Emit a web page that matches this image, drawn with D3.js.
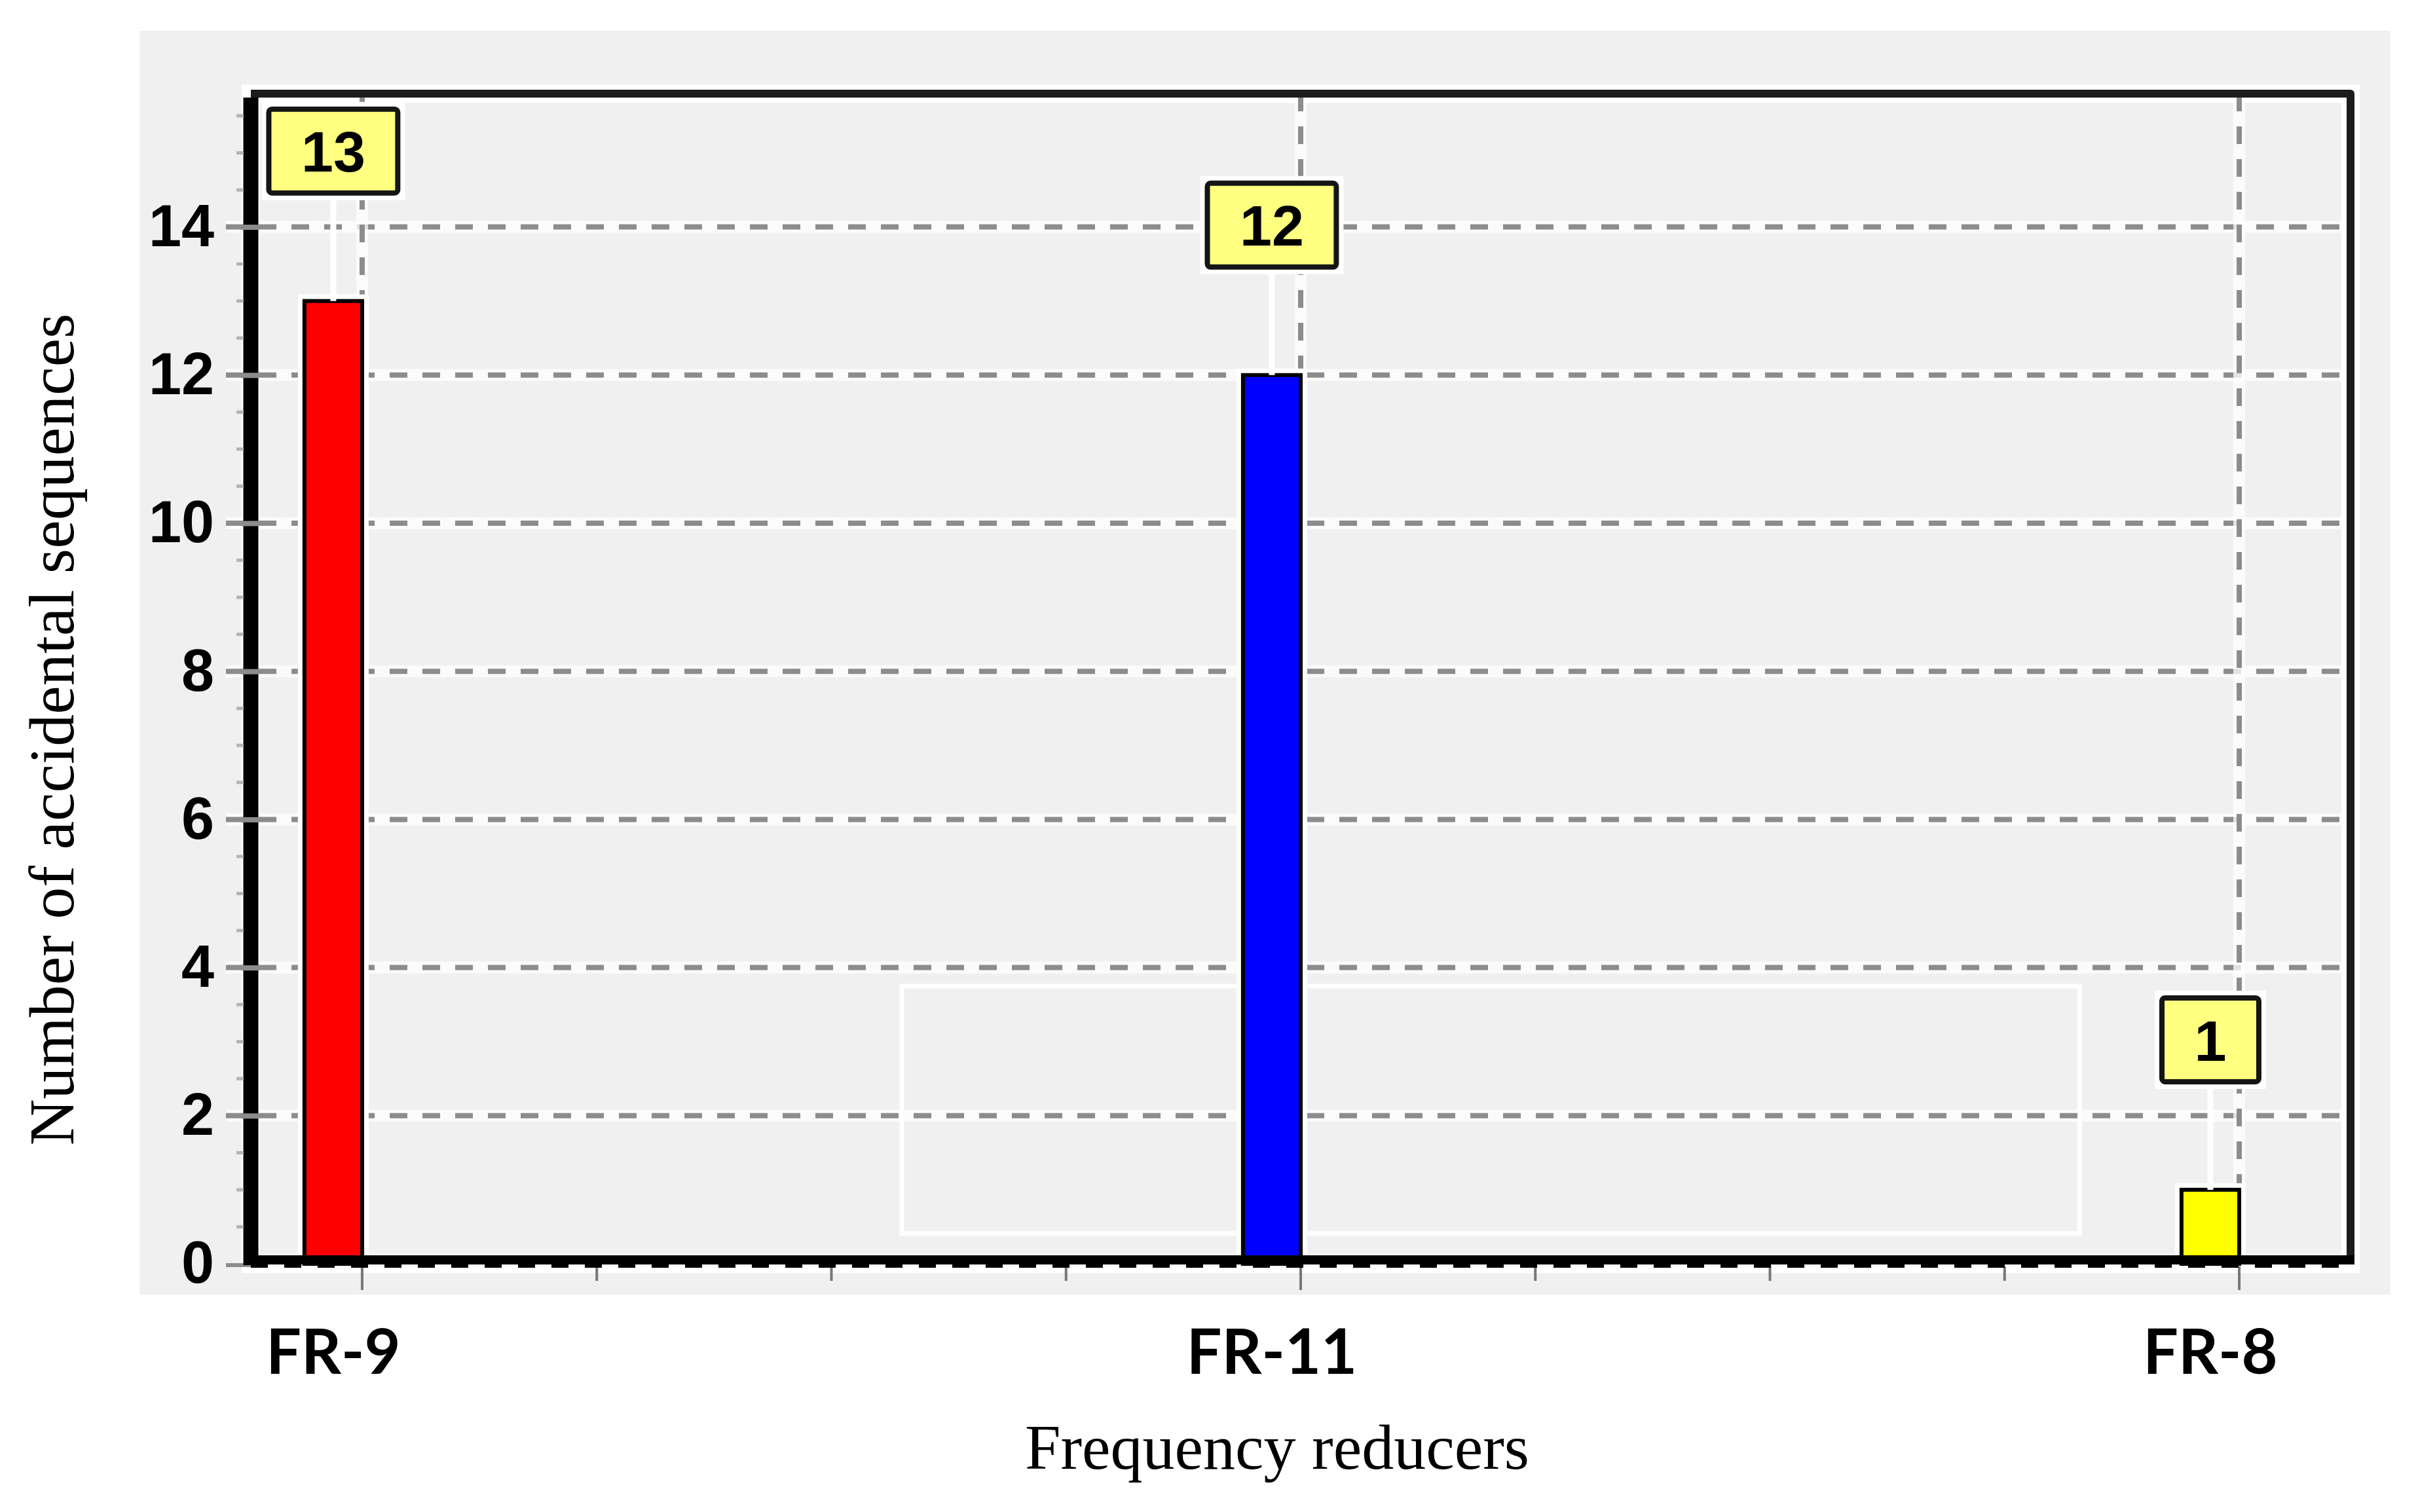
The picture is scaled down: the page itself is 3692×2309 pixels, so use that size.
<!DOCTYPE html>
<html>
<head>
<meta charset="utf-8">
<script src="https://cdn.jsdelivr.net/npm/d3@7"></script>
<style>
  body { margin: 0; background: #ffffff; }
  svg { display: block; }
</style>
</head>
<body>
<div id="chart"></div>
<script>
// chart values
const categories = ["FR-9", "FR-11", "FR-8"];
const counts = [13, 12, 1];
const barColors = ["#ff0000", "#0000ff", "#ffff00"];
const yTicks = [0, 2, 4, 6, 8, 10, 12, 14];
const xTitle = "Frequency reducers";
const yTitle = "Number of accidental sequences";

const W = 3692, H = 2309;
const frame = { left: 383, right: 3589, top: 143, bottom: 1930 };

const svg = d3.select("#chart")
    .append("svg")
    .attr("width", W)
    .attr("height", H);

const x = d3.scaleLinear().domain([-0.1186, 2.1186]).range([frame.left, frame.right]);
const y = d3.scaleLinear().domain([0, 15.8]).range([frame.bottom, frame.top]);
const barW = x(0) - x(-0.0615);

// grey panel behind the plot
svg.append("rect")
    .attr("x", 213).attr("y", 47)
    .attr("width", 3650 - 213).attr("height", 1977 - 47)
    .attr("fill", "#f0f0f0");

// white glow around the frame
svg.append("rect")
    .attr("x", frame.left).attr("y", frame.top)
    .attr("width", frame.right - frame.left).attr("height", frame.bottom - frame.top)
    .attr("fill", "none")
    .attr("stroke", "#ffffff")
    .attr("stroke-width", 28);

// empty legend box left over in the plot
svg.append("rect")
    .attr("x", x(0.575)).attr("y", y(3.75))
    .attr("width", x(1.830) - x(0.575)).attr("height", y(0.41) - y(3.75))
    .attr("fill", "none")
    .attr("stroke", "#ffffff")
    .attr("stroke-width", 7);

// horizontal grid
const hGrid = svg.append("g");
yTicks.filter(d => d > 0).forEach(d => {
    hGrid.append("line")
        .attr("x1", 345).attr("x2", frame.right)
        .attr("y1", y(d)).attr("y2", y(d))
        .attr("stroke", "#ffffff").attr("stroke-opacity", 0.75)
        .attr("stroke-width", 18);
    hGrid.append("line")
        .attr("x1", 345).attr("x2", frame.right)
        .attr("y1", y(d)).attr("y2", y(d))
        .attr("stroke", "#8c8c8c")
        .attr("stroke-width", 8)
        .attr("stroke-dasharray", "27,23");
});

// vertical grid at the categories
categories.forEach((c, i) => {
    hGrid.append("line")
        .attr("x1", x(i)).attr("x2", x(i))
        .attr("y1", frame.top).attr("y2", frame.bottom)
        .attr("stroke", "#ffffff").attr("stroke-opacity", 0.75)
        .attr("stroke-width", 18);
    hGrid.append("line")
        .attr("x1", x(i)).attr("x2", x(i))
        .attr("y1", frame.top).attr("y2", frame.bottom)
        .attr("stroke", "#8c8c8c")
        .attr("stroke-width", 8)
        .attr("stroke-dasharray", "27,23");
});

// bars
const bars = svg.append("g");
bars.selectAll("rect.halo")
    .data(counts)
    .join("rect")
    .attr("class", "halo")
    .attr("x", (d, i) => x(i) - barW)
    .attr("y", d => y(d))
    .attr("width", barW)
    .attr("height", d => y(0) - y(d))
    .attr("fill", "none")
    .attr("stroke", "#ffffff")
    .attr("stroke-width", 20);
bars.selectAll("rect.bar")
    .data(counts)
    .join("rect")
    .attr("class", "bar")
    .attr("x", (d, i) => x(i) - barW)
    .attr("y", d => y(d))
    .attr("width", barW)
    .attr("height", d => y(0) - y(d))
    .attr("fill", (d, i) => barColors[i])
    .attr("stroke", "#000000")
    .attr("stroke-width", 6);

// ticks under the x axis
svg.append("g")
    .selectAll("line")
    .data(d3.range(0, 2.01, 0.25))
    .join("line")
    .attr("x1", d => x(d)).attr("x2", d => x(d))
    .attr("y1", frame.bottom + 4)
    .attr("y2", d => Number.isInteger(d) ? frame.bottom + 40 : frame.bottom + 26)
    .attr("stroke", "#777777")
    .attr("stroke-width", 4);

// short grey stub for the zero line left of the axis
svg.append("line")
    .attr("x1", 345).attr("x2", frame.left)
    .attr("y1", frame.bottom + 2).attr("y2", frame.bottom + 2)
    .attr("stroke", "#8c8c8c").attr("stroke-width", 6);

// frame: top and right
svg.append("path")
    .attr("d", `M${frame.left},${frame.top} H${frame.right} V${frame.bottom}`)
    .attr("fill", "none")
    .attr("stroke", "#1c1c1c")
    .attr("stroke-width", 12)
    .attr("stroke-linejoin", "round");

// x axis: thick line with dense minor ticks
svg.append("line")
    .attr("x1", frame.left - 11).attr("x2", frame.right + 6)
    .attr("y1", frame.bottom - 6).attr("y2", frame.bottom - 6)
    .attr("stroke", "#000000").attr("stroke-width", 14);
svg.append("line")
    .attr("x1", frame.left).attr("x2", frame.right)
    .attr("y1", frame.bottom + 2).attr("y2", frame.bottom + 2)
    .attr("stroke", "#000000").attr("stroke-width", 8)
    .attr("stroke-dasharray", "26,25");

// y axis: thick line
svg.append("line")
    .attr("x1", frame.left).attr("x2", frame.left)
    .attr("y1", frame.top + 6).attr("y2", frame.bottom + 2)
    .attr("stroke", "#000000").attr("stroke-width", 23);

// faint minor ticks left of the y axis
svg.append("g")
    .selectAll("line")
    .data(d3.range(0.5, 15.8, 0.5).filter(d => d % 2 !== 0))
    .join("line")
    .attr("x1", frame.left - 22).attr("x2", frame.left - 11)
    .attr("y1", d => y(d)).attr("y2", d => y(d))
    .attr("stroke", "#b4b4b4").attr("stroke-width", 5);

// y axis ticks and labels
const yAxis = svg.append("g")
    .attr("transform", `translate(${frame.left + 12},0)`)
    .call(d3.axisLeft(y).tickValues(yTicks.filter(d => d > 0)).tickSize(50).tickPadding(18).tickFormat(d3.format("d")));
yAxis.select(".domain").remove();
yAxis.selectAll(".tick line")
    .attr("stroke", "#8c8c8c")
    .attr("stroke-width", 8)
    .attr("stroke-dasharray", "27,23");
yAxis.selectAll("text")
    .attr("font-family", "'Liberation Sans', Arial, sans-serif")
    .attr("font-weight", "bold")
    .attr("font-size", 90)
    .attr("fill", "#000000");
svg.append("text")
    .attr("x", frame.left + 12 - 68)
    .attr("y", y(0))
    .attr("dy", "0.32em")
    .attr("text-anchor", "end")
    .attr("font-family", "'Liberation Sans', Arial, sans-serif")
    .attr("font-weight", "bold")
    .attr("font-size", 90)
    .text("0");

// connectors from value boxes to bars
const boxGap = 165, boxH = 128;
svg.append("g")
    .selectAll("line")
    .data(counts)
    .join("line")
    .attr("x1", (d, i) => x(i) - barW / 2).attr("x2", (d, i) => x(i) - barW / 2)
    .attr("y1", d => y(d) - boxGap).attr("y2", d => y(d))
    .attr("stroke", "#ffffff").attr("stroke-width", 9);

// value boxes
const labels = svg.append("g")
    .selectAll("g")
    .data(counts)
    .join("g")
    .attr("transform", (d, i) => `translate(${x(i) - barW / 2},${y(d) - boxGap - boxH / 2})`);
labels.append("text")
    .attr("text-anchor", "middle")
    .attr("dy", "0.36em")
    .attr("font-family", "'Liberation Sans', Arial, sans-serif")
    .attr("font-weight", "bold")
    .attr("font-size", 88)
    .attr("fill", "#000000")
    .text(d => d);
labels.each(function () {
    const g = d3.select(this);
    const tw = g.select("text").node().getComputedTextLength();
    const bw = tw + 99;
    g.insert("rect", "text")
        .attr("x", -bw / 2).attr("y", -boxH / 2)
        .attr("width", bw).attr("height", boxH)
        .attr("fill", "none")
        .attr("stroke", "#ffffff").attr("stroke-width", 22);
    g.insert("rect", "text")
        .attr("x", -bw / 2).attr("y", -boxH / 2)
        .attr("width", bw).attr("height", boxH)
        .attr("rx", 5)
        .attr("fill", "#ffff80")
        .attr("stroke", "#151515").attr("stroke-width", 8);
});

// category labels
svg.append("g")
    .selectAll("text")
    .data(categories)
    .join("text")
    .attr("x", (d, i) => x(i) - barW / 2)
    .attr("y", 2098)
    .attr("text-anchor", "middle")
    .attr("font-family", "Lato, 'Open Sans', sans-serif")
    .attr("font-weight", "bold")
    .attr("font-size", 95)
    .attr("fill", "#000000")
    .text(d => d);

// axis titles
svg.append("text")
    .attr("x", 1950)
    .attr("y", 2243)
    .attr("text-anchor", "middle")
    .attr("font-family", "'Liberation Serif', 'Times New Roman', serif")
    .attr("font-size", 98)
    .attr("fill", "#000000")
    .text(xTitle);

svg.append("text")
    .attr("transform", "translate(112,1114) rotate(-90)")
    .attr("text-anchor", "middle")
    .attr("font-family", "'Liberation Serif', 'Times New Roman', serif")
    .attr("font-size", 98)
    .attr("fill", "#000000")
    .text(yTitle);
</script>
</body>
</html>
